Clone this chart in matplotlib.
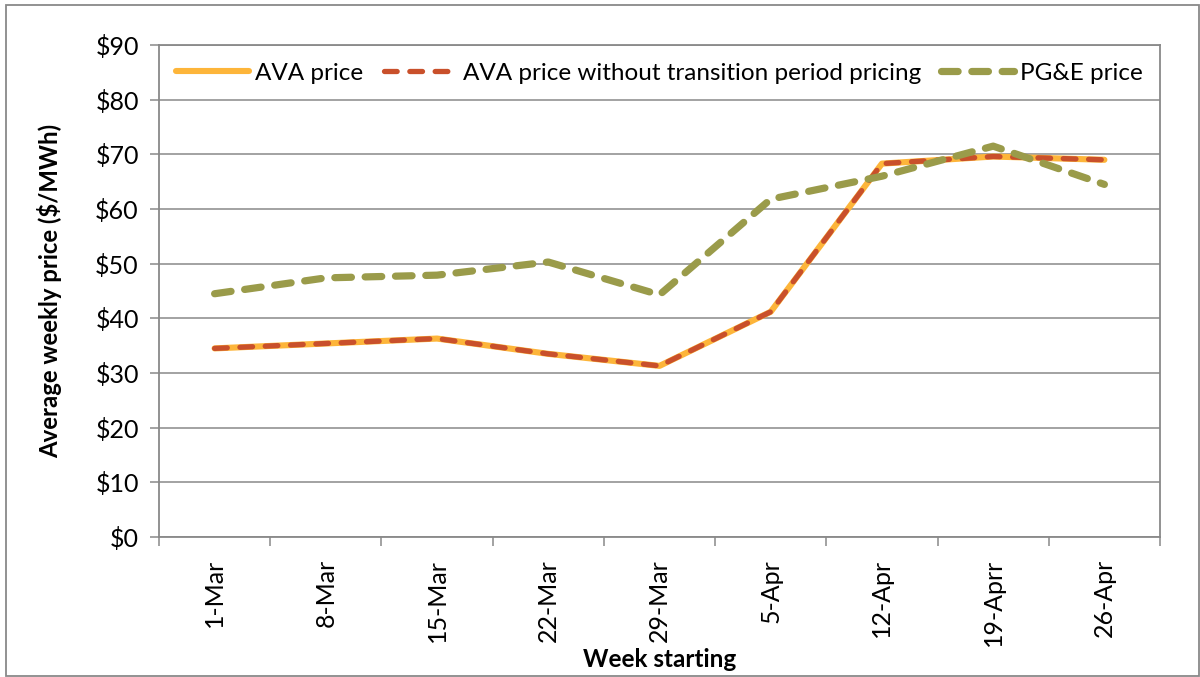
import matplotlib
matplotlib.use("Agg")
import matplotlib.pyplot as plt
from matplotlib.patches import Rectangle
import numpy as np

weeks = ["1-Mar", "8-Mar", "15-Mar", "22-Mar", "29-Mar", "5-Apr", "12-Apr", "19-Aprr", "26-Apr"]
ava_price = [34.5, 35.4, 36.3, 33.5, 31.3, 41.2, 68.3, 69.6, 69.0]
ava_no_transition = [34.5, 35.4, 36.3, 33.5, 31.3, 41.2, 68.3, 69.6, 69.0]
pge_price = [44.5, 47.4, 47.9, 50.3, 44.3, 61.8, 66.0, 71.5, 64.5]
y_ticks = [0, 10, 20, 30, 40, 50, 60, 70, 80, 90]

FONT = "Lato"
plt.rcParams["font.family"] = [FONT, "DejaVu Sans"]

W, H = 1200, 677
fig = plt.figure(figsize=(W / 100, H / 100), dpi=100)

# axes in pixel coords
L, R, T, B = 159, 1160, 45, 537
ax = fig.add_axes([L / W, 1 - B / H, (R - L) / W, (B - T) / H])

grey = "#898989"
x = np.arange(len(weeks))
ax.plot(x, ava_price, color="#FDB53A", lw=4.4, solid_capstyle="round",
        solid_joinstyle="round", label="AVA price", zorder=3)
ax.plot(x, ava_no_transition, color="#C9502B", lw=3.8, dashes=(2.4, 2.4),
        dash_capstyle="round", dash_joinstyle="round",
        label="AVA price without transition period pricing", zorder=4)
ax.plot(x, pge_price, color="#9A9B4A", lw=5.2, dashes=(2.3, 1.9),
        dash_capstyle="round", dash_joinstyle="round",
        label="PG&E price", zorder=5)

ax.set_xlim(-0.5, len(weeks) - 0.5)
ax.set_ylim(0, 90)
ax.set_yticks(y_ticks)
ax.set_yticklabels([f"${v}" for v in y_ticks])
ax.yaxis.grid(True, color=grey, lw=1.1)
ax.set_axisbelow(True)

ax.set_xticks(np.arange(-0.5, len(weeks)), labels=[""] * (len(weeks) + 1))
ax.set_xticks(x, minor=True)
ax.set_xticklabels(weeks, minor=True, rotation=90, fontsize=18)
ax.tick_params(axis="x", which="major", length=6.5, width=1.1, color=grey)
ax.tick_params(axis="x", which="minor", length=0, pad=16)
ax.tick_params(axis="y", length=6.5, width=1.1, color=grey, labelsize=18, pad=8)

for s in ax.spines.values():
    s.set_color(grey)
    s.set_linewidth(1.3)

ax.set_xlabel("Week starting", fontsize=17.5, fontweight="bold", labelpad=1)
ax.set_ylabel("Average weekly price ($/MWh)", fontsize=17.2, fontweight="bold", labelpad=24)

leg = ax.legend(loc="center", bbox_to_anchor=(0.5, 1 - (73 - T) / (B - T)), ncol=3,
                frameon=False, fontsize=17.5, handlelength=3.0, handletextpad=0.25,
                columnspacing=0.85)

fig.patches.append(Rectangle((6 / W, 1 - 676 / H), (1199 - 6) / W, (676 - 5) / H,
                             transform=fig.transFigure, fill=False,
                             edgecolor=grey, lw=1.3))

fig.savefig("out.png", dpi=100)
